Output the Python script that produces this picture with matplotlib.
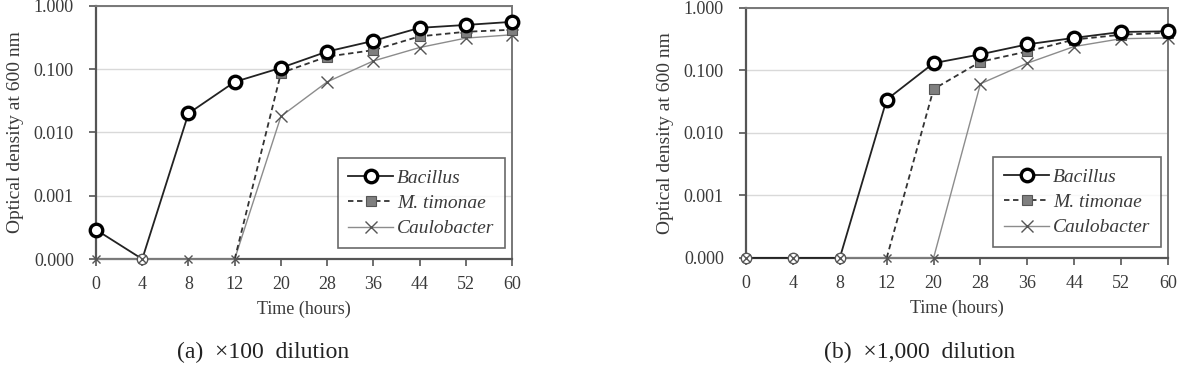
import numpy as np
import matplotlib
matplotlib.use("Agg")
import matplotlib.pyplot as plt
from matplotlib.ticker import FixedLocator, NullLocator

plt.rcParams['font.family'] = ['Liberation Serif', 'DejaVu Serif']

hours = ['0', '4', '8', '12', '20', '28', '36', '44', '52', '60']
ytick_vals = [1e-4, 1e-3, 1e-2, 1e-1, 1.0]
ytick_labels = ['0.000', '0.001', '0.010', '0.100', '1.000']
ZERO = 1e-4  # plotted at the "0.000" gridline

# (a) x100 dilution
bac_a = [2.9e-4, ZERO, 0.020, 0.063, 0.105, 0.19, 0.28, 0.45, 0.50, 0.56]
mti_a = [np.nan, np.nan, np.nan, ZERO, 0.087, 0.158, 0.20, 0.33, 0.39, 0.42]
cau_a = [ZERO, ZERO, ZERO, ZERO, 0.018, 0.063, 0.135, 0.22, 0.31, 0.35]

# (b) x1,000 dilution
bac_b = [ZERO, ZERO, ZERO, 0.034, 0.13, 0.18, 0.26, 0.33, 0.41, 0.42]
mti_b = [np.nan, np.nan, np.nan, ZERO, 0.050, 0.137, 0.20, 0.31, 0.37, 0.40]
cau_b = [ZERO, ZERO, ZERO, ZERO, ZERO, 0.061, 0.13, 0.24, 0.32, 0.33]

TXT = '#3a3a3a'


def draw_panel(ax, bac, mti, cau):
    x = np.arange(len(hours))
    bac = np.array(bac)
    mti = np.array(mti)
    cau = np.array(cau)
    ax.set_yscale('log')
    ax.set_ylim(1e-4, 1.0)
    ax.set_xlim(0, len(hours) - 1)
    ax.yaxis.set_major_locator(FixedLocator(ytick_vals))
    ax.yaxis.set_minor_locator(NullLocator())
    ax.set_yticklabels(ytick_labels)
    ax.set_xticks(x)
    ax.set_xticklabels(hours)
    ax.grid(axis='y', color='#d9d9d9', lw=1.0, zorder=0)
    ax.set_axisbelow(True)

    # Caulobacter: big crosses for growth, small ones at zero
    c_grow = [i for i in range(len(cau)) if cau[i] > ZERO]
    c_zero = [i for i in range(len(cau)) if cau[i] <= ZERO]
    ax.plot(x, cau, color='#8c8c8c', lw=1.0, marker='x', ms=8, mew=1.0,
            mec='#555555', markevery=c_grow, zorder=3, clip_on=False)
    ax.plot(x[c_zero], cau[c_zero], ls='none', marker='x', ms=6, mew=1.0,
            mec='#555555', zorder=6, clip_on=False)
    # M. timonae (no marker at the zero start point)
    mti_mark = [i for i in range(len(mti)) if not np.isnan(mti[i]) and mti[i] > ZERO]
    ax.plot(x, mti, color='#333333', lw=1.3, ls=(0, (3, 2)), marker='s', ms=7,
            mfc='#7f7f7f', mec='#555555', mew=0.8, markevery=mti_mark, zorder=4,
            clip_on=False)
    # Bacillus: bold circles for growth, thin small circles at zero
    grow = [i for i in range(len(bac)) if bac[i] > ZERO]
    zero = [i for i in range(len(bac)) if bac[i] <= ZERO]
    ax.plot(x, bac, color='#222222', lw=1.3, marker='o', ms=9, mfc='white',
            mec='black', mew=2.4, markevery=grow, zorder=5, clip_on=False)
    ax.plot(x[zero], bac[zero], ls='none', marker='o', ms=7.5, mfc='white',
            mec='#555555', mew=1.0, zorder=5, clip_on=False)

    for side in ['left', 'bottom']:
        ax.spines[side].set_color('#555555')
        ax.spines[side].set_linewidth(1.6)
    for side in ['top', 'right']:
        ax.spines[side].set_color('#777777')
        ax.spines[side].set_linewidth(1.4)
    ax.tick_params(axis='both', colors='#555555', labelcolor=TXT,
                   labelsize=13, length=5, width=1.2)
    ax.tick_params(axis='x', pad=7)
    ax.tick_params(axis='y', pad=11)
    ax.set_ylabel('Optical density at 600 nm', fontsize=14, color=TXT,
                  labelpad=7)
    ax.set_xlabel('Time (hours)', fontsize=13, color=TXT, labelpad=6)

    leg_handles = [
        plt.Line2D([], [], color='#222222', lw=1.3, marker='o', ms=9,
                   mfc='white', mec='black', mew=2.4),
        plt.Line2D([], [], color='#333333', lw=1.3, ls=(0, (3, 2)), marker='s',
                   ms=7, mfc='#7f7f7f', mec='#555555', mew=0.8),
        plt.Line2D([], [], color='#8c8c8c', lw=1.0, marker='x', ms=8,
                   mec='#555555', mew=1.0),
    ]
    leg = ax.legend(leg_handles, ['Bacillus', 'M. timonae', 'Caulobacter'],
                    loc='lower right', bbox_to_anchor=(0.983, 0.043),
                    borderaxespad=0.0,
                    prop={'style': 'italic', 'size': 14}, frameon=True,
                    fancybox=False, edgecolor='#444444', handlelength=2.3,
                    handletextpad=0.2, borderpad=0.55, labelspacing=0.4,
                    labelcolor=TXT)
    leg.get_frame().set_linewidth(1.2)


fig = plt.figure(figsize=(11.87, 3.69), dpi=100)
ax1 = fig.add_axes([0.0809, 0.298, 0.3505, 0.686])
ax2 = fig.add_axes([0.6285, 0.301, 0.3555, 0.678])
draw_panel(ax1, bac_a, mti_a, cau_a)
draw_panel(ax2, bac_b, mti_b, cau_b)

fig.text(0.222, 0.045, '(a)  \u00d7100  dilution', ha='center', va='center',
         fontsize=17, color='#222222')
fig.text(0.775, 0.045, '(b)  \u00d71,000  dilution', ha='center', va='center',
         fontsize=17, color='#222222')

fig.savefig('out.png', dpi=100)
